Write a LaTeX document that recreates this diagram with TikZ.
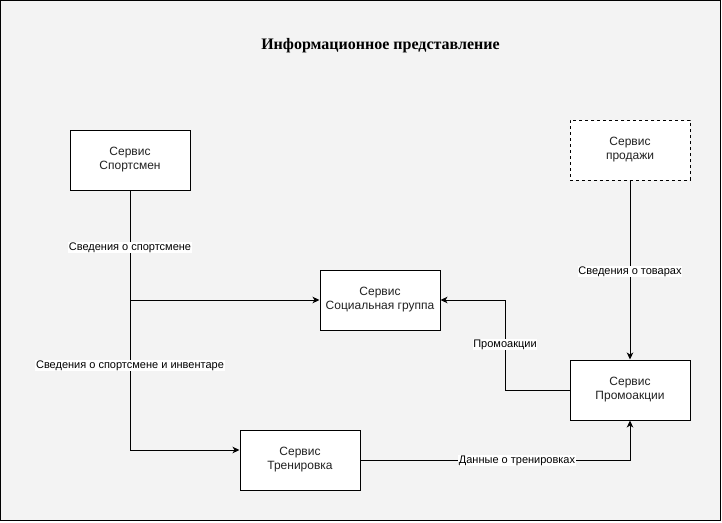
\documentclass[tikz,border=0pt]{standalone}
\usepackage{fontspec}
\setmainfont{Liberation Sans}
\newfontfamily\titlefont{Liberation Serif}
\usetikzlibrary{arrows.meta}
\definecolor{bgc}{HTML}{F3F3F3}
\definecolor{txt}{HTML}{222222}
\tikzset{
  svc/.style={draw=black, fill=white, line width=1pt, minimum width=120pt, minimum height=60pt,
    inner sep=0pt, align=center, font=\fontsize{12}{14}\selectfont, text=txt},
  conn/.style={draw=black, line width=1pt, -{Stealth[length=7pt,width=6.5pt,inset=2pt]}},
  lbl/.style={fill=white, inner sep=0.8pt, font=\fontsize{11}{13}\selectfont, text=black},
}
\begin{document}
\begin{tikzpicture}[x=1pt,y=-1pt]
\useasboundingbox (0,0) rectangle (722,522);
\draw[fill=bgc, line width=1.2pt] (0.8,0.8) rectangle (720.6,520.6);
\node[font=\titlefont\bfseries\fontsize{16}{18}\selectfont, text=black] (title) at (380.5,46) {Информационное представление};

\node[svc] (sport) at (130,160) {Сервис\\Спортсмен};
\node[svc, dashed, dash pattern=on 3pt off 3pt] (sales) at (630,150) {Сервис\\продажи};
\node[svc] (social) at (380,300) {Сервис\\Социальная группа};
\node[svc] (promo) at (630,390) {Сервис\\Промоакции};
\node[svc] (train) at (300,460) {Сервис\\Тренировка};

\coordinate (c1) at (130,300);
\coordinate (c2) at (130,450);
\coordinate (c3) at (505,390);
\coordinate (c4) at (505,300);
\coordinate (c5) at (630,460);

\draw[conn] (sport.south) -- (c1) -- (social.west);
\draw[conn] (sport.south) -- (c2) -- (train.west |- c2);
\draw[conn] (sales.south) -- (promo.north);
\draw[conn] (promo.west) -- (c3) -- (c4) -- (social.east);
\draw[conn] (train.east) -- (c5) -- (promo.south);

\node[lbl] (l1) at (130,247.5) {Сведения о спортсмене};
\node[lbl] (l2) at (130,365.5) {Сведения о спортсмене и инвентаре};
\node[lbl] (l3) at (630,271.5) {Сведения о товарах};
\node[lbl] (l4) at (505,344.5) {Промоакции};
\node[lbl] (l5) at (517,460.5) {Данные о тренировках};
\end{tikzpicture}
\end{document}
